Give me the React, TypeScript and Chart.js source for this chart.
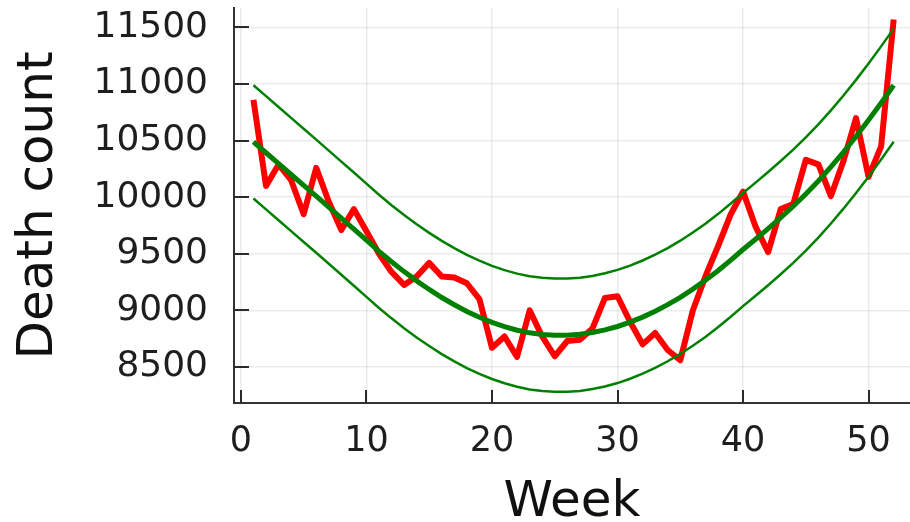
import React, { useEffect, useRef } from "react";
import { Chart, registerables } from "chart.js";

Chart.register(...registerables);

const weeks = [
  1, 2, 3, 4, 5, 6, 7, 8, 9, 10, 11, 12, 13, 14, 15, 16, 17, 18, 19, 20, 21, 22, 23, 24, 25, 26,
  27, 28, 29, 30, 31, 32, 33, 34, 35, 36, 37, 38, 39, 40, 41, 42, 43, 44, 45, 46, 47, 48, 49, 50, 51, 52,
];

const deaths = [
  10860, 10100, 10290, 10150, 9850, 10260, 9960, 9710, 9895, 9700, 9500, 9340, 9225, 9300, 9420, 9300,
  9290, 9240, 9100, 8670, 8770, 8590, 9000, 8770, 8595, 8730, 8740, 8840, 9110, 9125, 8900, 8700, 8800,
  8650, 8560, 9000, 9300, 9565, 9845, 10050, 9740, 9515, 9895, 9940, 10330, 10290, 10010, 10320, 10700,
  10180, 10450, 11570,
];

const fitCenter = [
  10489, 10393, 10297, 10201, 10105, 10009, 9912, 9815, 9718, 9620, 9522, 9430, 9343, 9261, 9185, 9114,
  9050, 8991, 8940, 8894, 8856, 8825, 8802, 8788, 8781, 8781, 8789, 8805, 8828, 8858, 8896, 8941, 8993,
  9051, 9116, 9188, 9266, 9351, 9442, 9538, 9629, 9723, 9820, 9920, 10028, 10144, 10268, 10399, 10537,
  10682, 10833, 10990,
];

const fitUpper = [
  10989, 10893, 10797, 10701, 10605, 10509, 10412, 10315, 10218, 10120, 10022, 9930, 9843, 9761, 9685,
  9614, 9550, 9491, 9440, 9394, 9356, 9325, 9302, 9288, 9281, 9281, 9289, 9305, 9328, 9358, 9396, 9441,
  9493, 9551, 9616, 9688, 9766, 9851, 9942, 10038, 10129, 10223, 10320, 10420, 10528, 10644, 10768,
  10899, 11037, 11182, 11333, 11490,
];

const fitLower = [
  9989, 9893, 9797, 9701, 9605, 9509, 9412, 9315, 9218, 9120, 9022, 8930, 8843, 8761, 8685, 8614, 8550,
  8491, 8440, 8394, 8356, 8325, 8302, 8288, 8281, 8281, 8289, 8305, 8328, 8358, 8396, 8441, 8493, 8551,
  8616, 8688, 8766, 8851, 8942, 9038, 9129, 9223, 9320, 9420, 9528, 9644, 9768, 9899, 10037, 10182,
  10333, 10490,
];

const xTicks = [0, 10, 20, 30, 40, 50];
const yTicks = [8500, 9000, 9500, 10000, 10500, 11000, 11500];

const FONT = "DejaVu Sans";

const innerTicks = {
  id: "innerTicks",
  beforeDatasetsDraw(chart: any) {
    const { ctx, chartArea, scales } = chart;
    ctx.save();
    ctx.strokeStyle = "#2b2b2b";
    ctx.lineWidth = 2;
    ctx.beginPath();
    for (const v of yTicks) {
      const y = Math.round(scales.y.getPixelForValue(v));
      ctx.moveTo(chartArea.left, y);
      ctx.lineTo(chartArea.left + 15, y);
    }
    for (const v of xTicks) {
      const x = Math.round(scales.x.getPixelForValue(v));
      ctx.moveTo(x, chartArea.bottom);
      ctx.lineTo(x, chartArea.bottom - 13);
    }
    ctx.stroke();
    ctx.restore();
  },
};

export default function App() {
  const ref = useRef<HTMLCanvasElement | null>(null);

  useEffect(() => {
    if (!ref.current) return;
    const pts = (arr: number[]) => weeks.map((w, i) => ({ x: w, y: arr[i] }));
    const chart = new Chart(ref.current, {
      type: "line",
      data: {
        datasets: [
          {
            label: "Fit",
            data: pts(fitCenter),
            borderColor: "#008000",
            borderWidth: 5,
            pointRadius: 0,
            fill: false,
          },
          {
            label: "Upper",
            data: pts(fitUpper),
            borderColor: "#008000",
            borderWidth: 2.5,
            pointRadius: 0,
            fill: false,
          },
          {
            label: "Lower",
            data: pts(fitLower),
            borderColor: "#008000",
            borderWidth: 2.5,
            pointRadius: 0,
            fill: false,
          },
          {
            label: "Deaths",
            data: pts(deaths),
            borderColor: "#ff0000",
            borderWidth: 6,
            pointRadius: 0,
            fill: false,
            borderJoinStyle: "round",
          },
        ],
      },
      options: {
        responsive: false,
        animation: false,
        events: [],
        layout: { padding: { top: 8, right: 0, left: 0, bottom: 0 } },
        plugins: { legend: { display: false }, tooltip: { enabled: false } },
        scales: {
          x: {
            type: "linear",
            min: -0.55,
            max: 53.3,
            afterBuildTicks: (s: any) => {
              s.ticks = xTicks.map((v) => ({ value: v }));
            },
            afterFit: (s: any) => {
              s.height = 119;
              s.paddingLeft = 0;
              s.paddingRight = 0;
            },
            grid: { color: "rgba(0,0,0,0.08)", lineWidth: 1.5, drawTicks: false },
            border: { color: "#333333", width: 2 },
            ticks: {
              font: { family: FONT, size: 35 },
              color: "#1e1e1e",
              padding: 18,
              maxRotation: 0,
            },
            title: {
              display: true,
              text: "Week",
              font: { family: FONT, size: 50, lineHeight: 1 },
              color: "#111111",
              padding: { top: 0, bottom: -6 },
            },
          },
          y: {
            type: "linear",
            min: 8182,
            max: 11672,
            afterBuildTicks: (s: any) => {
              s.ticks = yTicks.map((v) => ({ value: v }));
            },
            afterFit: (s: any) => {
              s.width = 234;
              s.paddingTop = 0;
              s.paddingBottom = 0;
            },
            grid: { color: "rgba(0,0,0,0.08)", lineWidth: 1.5, drawTicks: false },
            border: { color: "#333333", width: 2 },
            ticks: {
              font: { family: FONT, size: 36 },
              color: "#1e1e1e",
              padding: 26,
              callback: (v: any) => String(v),
            },
            title: {
              display: true,
              text: "Death count",
              font: { family: FONT, size: 50, lineHeight: 1 },
              color: "#111111",
              padding: { top: 14, bottom: 0 },
            },
          },
        },
      },
      plugins: [innerTicks],
    });
    return () => chart.destroy();
  }, []);

  return (
    <div style={{ position: "absolute", left: 0, top: 0, width: 910, height: 522, background: "#fff" }}>
      <canvas ref={ref} width={910} height={522} style={{ display: "block" }} />
    </div>
  );
}
